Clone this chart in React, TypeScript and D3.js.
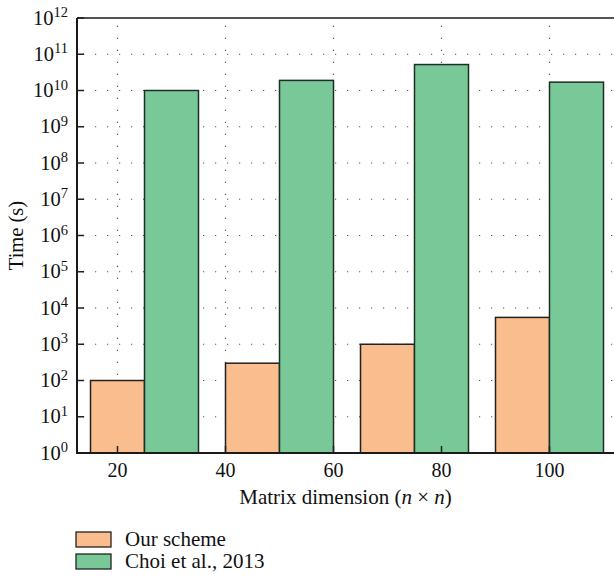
import {useRef, useEffect} from "react";
import * as d3 from "d3";

// group position on the x axis (n) and the two series, time in seconds
const groupX = [25, 50, 75, 100];
const ourScheme = [100, 300, 1000, 5500];
const choi2013 = [1e10, 1.9e10, 5.2e10, 1.7e10];
const xTicks = [20, 40, 60, 80, 100];
const yExponents = [0, 1, 2, 3, 4, 5, 6, 7, 8, 9, 10, 11, 12];
const seriesNames = ["Our scheme", "Choi et al., 2013"];
const seriesColors = ["#F9BD8E", "#79C998"];

export default function App(){
    const width = 614;
    const height = 580;
    const left = 77;
    const right = 617;
    const top = 18;
    const bottom = 453;
    const barW = 10;
    const font = "'Liberation Serif', 'DejaVu Serif', serif";
    const root = useRef<SVGSVGElement>(null);

    const x = d3.scaleLinear([12.5, 112.5], [left, right]);
    const y = d3.scaleLog([1, 1e12], [bottom, top]);

    useEffect(() => {
        const svg = d3.select(root.current);
        svg.selectAll("*").remove();

        // dotted grid
        svg.append("g")
           .selectAll("line")
           .data(yExponents.filter(e => e > 0 && e < 12))
           .enter()
           .append("line")
           .attr("x1", left)
           .attr("x2", width)
           .attr("y1", e => y(Math.pow(10, e)))
           .attr("y2", e => y(Math.pow(10, e)))
           .attr("stroke", "#555")
           .attr("stroke-width", 1.2)
           .attr("stroke-dasharray", "1.2,10.8")
           .attr("stroke-dashoffset", -6)
        svg.append("g")
           .selectAll("line")
           .data(xTicks)
           .enter()
           .append("line")
           .attr("x1", d => x(d))
           .attr("x2", d => x(d))
           .attr("y1", bottom)
           .attr("y2", top)
           .attr("stroke", "#555")
           .attr("stroke-width", 1.2)
           .attr("stroke-dasharray", "1.2,10.8")
           .attr("stroke-dashoffset", -6)

        // bars
        const series = [ourScheme, choi2013];
        series.forEach((vals, s) => {
            svg.append("g")
               .selectAll("rect")
               .data(vals)
               .enter()
               .append("rect")
               .attr("x", (d, i) => x(groupX[i] - barW + s * barW))
               .attr("width", x(barW) - x(0))
               .attr("y", d => y(d))
               .attr("height", d => y(1) - y(d))
               .attr("fill", seriesColors[s])
               .attr("stroke", s === 0 ? "#222" : "#1e2e24")
               .attr("stroke-width", 1.5)
        })

        // ticks
        svg.append("g")
           .selectAll("line")
           .data(yExponents)
           .enter()
           .append("line")
           .attr("x1", left)
           .attr("x2", left + 7)
           .attr("y1", e => y(Math.pow(10, e)))
           .attr("y2", e => y(Math.pow(10, e)))
           .attr("stroke", "#222")
           .attr("stroke-width", 1.5)
        svg.append("g")
           .selectAll("line")
           .data(xTicks)
           .enter()
           .append("line")
           .attr("x1", d => x(d))
           .attr("x2", d => x(d))
           .attr("y1", bottom)
           .attr("y2", bottom - 7)
           .attr("stroke", "#222")
           .attr("stroke-width", 1.5)

        // frame
        svg.append("line").attr("x1", left).attr("x2", left).attr("y1", top).attr("y2", bottom + 1)
           .attr("stroke", "#1a1a1a").attr("stroke-width", 2)
        svg.append("line").attr("x1", left - 1).attr("x2", width).attr("y1", bottom).attr("y2", bottom)
           .attr("stroke", "#1a1a1a").attr("stroke-width", 2.2)
        svg.append("line").attr("x1", left).attr("x2", width).attr("y1", top).attr("y2", top)
           .attr("stroke", "#1a1a1a").attr("stroke-width", 1.6)

        // y labels 10^k
        const yl = svg.append("g")
           .selectAll("text")
           .data(yExponents)
           .enter()
           .append("text")
           .attr("x", 68)
           .attr("y", e => y(Math.pow(10, e)) + 6.5)
           .attr("text-anchor", "end")
           .attr("font-family", font)
           .attr("font-size", 20.5)
           .attr("fill", "#111")
        yl.append("tspan").text("10")
        yl.append("tspan").attr("dy", -7.5).attr("font-size", 14.5).text(e => String(e))

        // x labels
        svg.append("g")
           .selectAll("text")
           .data(xTicks)
           .enter()
           .append("text")
           .attr("x", d => x(d))
           .attr("y", 477)
           .attr("text-anchor", "middle")
           .attr("font-family", font)
           .attr("font-size", 20)
           .attr("fill", "#111")
           .text(d => String(d))

        // axis titles
        const xt = svg.append("text")
           .attr("x", (left + width) / 2)
           .attr("y", 504)
           .attr("text-anchor", "middle")
           .attr("font-family", font)
           .attr("font-size", 21)
           .attr("fill", "#111")
        xt.append("tspan").text("Matrix dimension (")
        xt.append("tspan").attr("font-style", "italic").text("n")
        xt.append("tspan").text(" × ")
        xt.append("tspan").attr("font-style", "italic").text("n")
        xt.append("tspan").text(")")

        svg.append("text")
           .attr("transform", "translate(23," + (top + bottom) / 2 + ") rotate(-90)")
           .attr("text-anchor", "middle")
           .attr("font-family", font)
           .attr("font-size", 20.5)
           .attr("fill", "#111")
           .text("Time (s)")

        // legend
        const lg = svg.append("g")
           .selectAll("g")
           .data(seriesNames)
           .enter()
           .append("g")
           .attr("transform", (d, i) => "translate(76," + (532 + i * 22) + ")")
        lg.append("rect")
           .attr("width", 35)
           .attr("height", 15)
           .attr("fill", (d, i) => seriesColors[i])
           .attr("stroke", "#222")
           .attr("stroke-width", 1.3)
        lg.append("text")
           .attr("x", 49)
           .attr("y", 14)
           .attr("font-family", font)
           .attr("font-size", 21)
           .attr("fill", "#111")
           .text(d => d)
    }, [])

    return (
        <svg ref={root} width={width} height={height}
             style={{position: "absolute", left: 0, top: 0, background: "#fff"}}>
        </svg>
    )
}
